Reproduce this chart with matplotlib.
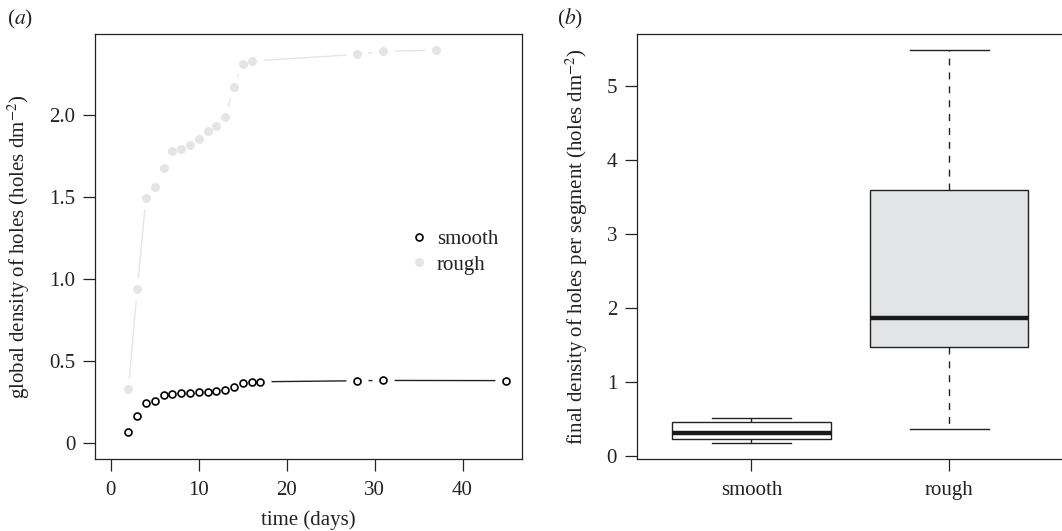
import matplotlib
matplotlib.use("Agg")
import matplotlib.pyplot as plt
import numpy as np

plt.rcParams["font.family"] = ["Liberation Serif", "DejaVu Serif"]
plt.rcParams["mathtext.fontset"] = "stix"

# ===================== data =====================
smooth_days = [2, 3, 4, 5, 6, 7, 8, 9, 10, 11, 12, 13, 14, 15, 16, 17, 28, 31, 45]
smooth_density = [0.07, 0.165, 0.242, 0.254, 0.291, 0.301, 0.305, 0.307, 0.309,
                  0.311, 0.315, 0.323, 0.343, 0.364, 0.370, 0.374, 0.380, 0.382, 0.381]
rough_days = [2, 3, 4, 5, 6, 7, 8, 9, 10, 11, 12, 13, 14, 15, 16, 28, 31, 37]
rough_density = [0.33, 0.937, 1.494, 1.561, 1.675, 1.778, 1.788, 1.815, 1.853,
                 1.902, 1.928, 1.985, 2.165, 2.307, 2.325, 2.366, 2.384, 2.392]

groups = ["smooth", "rough"]
whisker_low = [0.18, 0.37]
q1 = [0.23, 1.48]
medians = [0.307, 1.865]
q3 = [0.455, 3.604]
whisker_high = [0.519, 5.496]
box_colors = ["white", "#e3e4e6"]

ink = "#222222"
rough_col = "#e4e5e7"

fig = plt.figure(figsize=(10.62, 5.31), dpi=100)
ax1 = fig.add_axes([95 / 1062, 1 - 459 / 531, 427.3 / 1062, 425 / 531])
ax2 = fig.add_axes([636.7 / 1062, 1 - 459 / 531, 427.3 / 1062, 425 / 531])


def style_axes(ax):
    for s in ax.spines.values():
        s.set_color(ink)
        s.set_linewidth(0.9)
    ax.tick_params(direction="out", length=8.6, width=0.9, color=ink,
                   labelsize=15, labelcolor=ink, pad=5.5)


# ===================== (a) time series =====================
# lines, then white halos to leave gaps around the points (R type="b")
ax1.plot(rough_days, rough_density, "-", color=rough_col, lw=1.0, zorder=1)
ax1.plot(smooth_days, smooth_density, "-", color=ink, lw=1.0, zorder=1)
ax1.plot(rough_days, rough_density, "o", ms=16, mfc="white", mec="none", zorder=2)
ax1.plot(smooth_days, smooth_density, "o", ms=16, mfc="white", mec="none", zorder=2)
ax1.plot(smooth_days, smooth_density, "o", ms=5, mfc="white", mec="black",
         mew=1.2, ls="none", zorder=3, label="smooth")
ax1.plot(rough_days, rough_density, "o", ms=6.5, mfc=rough_col, mec="none",
         ls="none", zorder=3, label="rough")

ax1.set_xlim(-1.8, 46.8)
ax1.set_ylim(-0.096, 2.49)
ax1.set_xticks([0, 10, 20, 30, 40])
ax1.set_yticks([0, 0.5, 1.0, 1.5, 2.0])
ax1.set_yticklabels(["0", "0.5", "1.0", "1.5", "2.0"])
style_axes(ax1)
ax1.tick_params(axis="x", pad=7)
ax1.set_xlabel("time (days)", fontsize=15, color=ink)
ax1.xaxis.set_label_coords(0.5, -0.12)
ax1.set_ylabel("global density of holes (holes dm$^{-2}$)", fontsize=15, color=ink)
ax1.yaxis.set_label_coords(-0.148, 0.5)
leg = ax1.legend(loc="center left", bbox_to_anchor=(0.72, 0.487), frameon=False,
                 fontsize=15, handlelength=0.6, handletextpad=0.55, labelspacing=0.3,
                 borderpad=0, labelcolor=ink)

# ===================== (b) box plots =====================
stats = []
for i, g in enumerate(groups):
    stats.append(dict(label=g, whislo=whisker_low[i], q1=q1[i], med=medians[i],
                      q3=q3[i], whishi=whisker_high[i], fliers=[]))
bp = ax2.bxp(stats, positions=[1, 2], widths=0.8, capwidths=0.4, patch_artist=True,
             showfliers=False,
             boxprops=dict(edgecolor=ink, linewidth=1.0),
             medianprops=dict(color="#1a1a1a", linewidth=3.2, solid_capstyle="butt"),
             whiskerprops=dict(color=ink, linewidth=1.0, linestyle=(0, (5, 5))),
             capprops=dict(color=ink, linewidth=1.0))
for patch, col in zip(bp["boxes"], box_colors):
    patch.set_facecolor(col)
for w in bp["whiskers"]:
    w.set_zorder(1)

ax2.set_xlim(0.42, 2.58)
ax2.set_ylim(-0.04, 5.71)
ax2.set_yticks([0, 1, 2, 3, 4, 5])
style_axes(ax2)
ax2.tick_params(axis="x", pad=7)
ax2.set_ylabel("final density of holes per segment (holes dm$^{-2}$)", fontsize=15,
               color=ink)
ax2.yaxis.set_label_coords(-0.109, 0.5)

fig.text(7 / 1062, 1 - 19 / 531, "($a$)", fontsize=15.5, color=ink, va="center")
fig.text(557 / 1062, 1 - 19 / 531, "($b$)", fontsize=15.5, color=ink, va="center")

fig.savefig("out.png", dpi=100)
